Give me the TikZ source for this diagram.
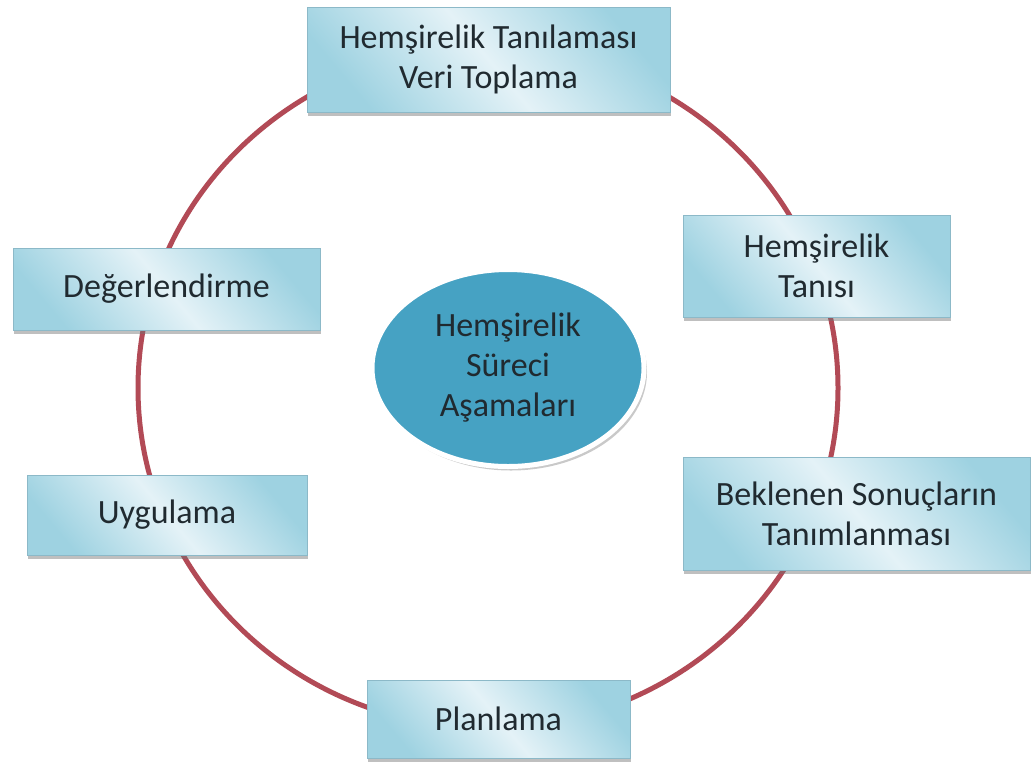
\documentclass[tikz,border=0pt]{standalone}
\usepackage{fontspec}
\setmainfont{Carlito}
\usetikzlibrary{shadows,shapes.geometric}
\definecolor{ringred}{RGB}{178,74,86}
\definecolor{boxedge}{RGB}{158,210,225}
\definecolor{boxmid}{RGB}{228,242,247}
\definecolor{boxline}{RGB}{140,185,200}
\definecolor{hubblue}{RGB}{70,162,195}
\definecolor{inktext}{RGB}{32,42,48}
\begin{document}
\begin{tikzpicture}[x=1pt, y=-1pt,
  stagebox/.style={rectangle, draw=boxline, line width=0.8pt,
    top color=boxedge, bottom color=boxedge, middle color=boxmid, shading angle=-50,
    drop shadow={shadow xshift=1pt, shadow yshift=-4pt, opacity=0.45, fill=black!55},
    text=inktext, align=center, inner sep=0pt,
    font=\fontsize{34}{40}\selectfont},
  hub/.style={ellipse, fill=hubblue, draw=white, line width=5pt,
    drop shadow={shadow xshift=3pt, shadow yshift=-4pt, opacity=0.35, fill=black!60},
    text=inktext, align=center, inner sep=0pt,
    minimum width=272pt, minimum height=197pt,
    font=\fontsize{34}{40}\selectfont}]
\useasboundingbox (0,0) rectangle (1032,761);
\fill[white] (0,0) rectangle (1032,761);

\coordinate (ringc) at (488,388);
\draw[ringred, line width=5pt] (ringc) ellipse [x radius=350, y radius=340];

\node[stagebox, minimum width=363pt, minimum height=105pt] (veri) at (488.5,59.5) {Hemşirelik Tanılaması\\Veri Toplama};
\node[stagebox, minimum width=267pt, minimum height=102pt] (tani) at (816.5,266) {Hemşirelik\\Tanısı};
\node[stagebox, minimum width=347pt, minimum height=113pt] (sonuc) at (856.5,513.5) {Beklenen Sonuçların\\Tanımlanması};
\node[stagebox, minimum width=263pt, minimum height=78pt] (plan) at (498.5,719) {Planlama};
\node[stagebox, minimum width=280pt, minimum height=80pt] (uygu) at (167,515) {Uygulama};
\node[stagebox, minimum width=307pt, minimum height=82pt] (deger) at (166.5,289) {Değerlendirme};

\node[hub] (surec) at (508,368) {Hemşirelik\\Süreci\\Aşamaları};
\end{tikzpicture}
\end{document}
